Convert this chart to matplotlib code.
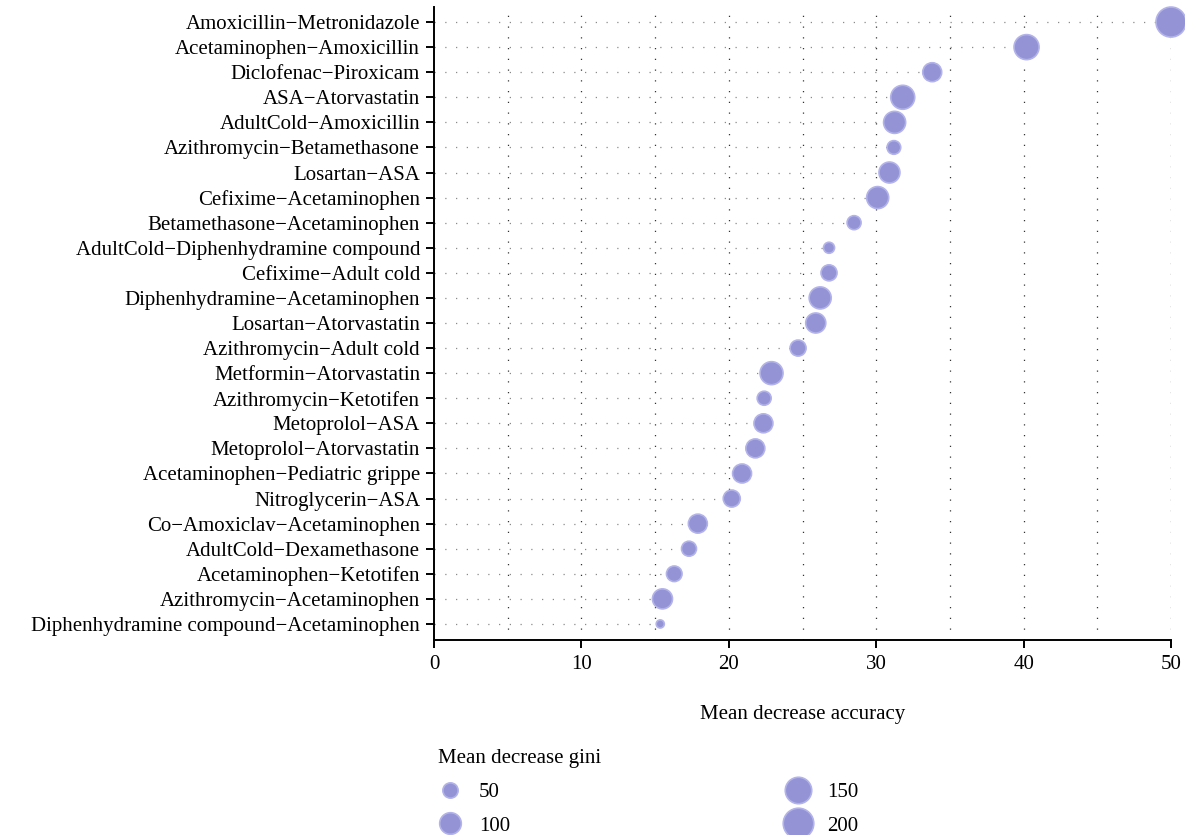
import numpy as np
import matplotlib.pyplot as plt
from matplotlib.lines import Line2D

plt.rcParams['font.family'] = ['Liberation Serif', 'DejaVu Serif']

# top to bottom as they appear in the chart
pairs = [
    "Amoxicillin\u2212Metronidazole",
    "Acetaminophen\u2212Amoxicillin",
    "Diclofenac\u2212Piroxicam",
    "ASA\u2212Atorvastatin",
    "AdultCold\u2212Amoxicillin",
    "Azithromycin\u2212Betamethasone",
    "Losartan\u2212ASA",
    "Cefixime\u2212Acetaminophen",
    "Betamethasone\u2212Acetaminophen",
    "AdultCold\u2212Diphenhydramine compound",
    "Cefixime\u2212Adult cold",
    "Diphenhydramine\u2212Acetaminophen",
    "Losartan\u2212Atorvastatin",
    "Azithromycin\u2212Adult cold",
    "Metformin\u2212Atorvastatin",
    "Azithromycin\u2212Ketotifen",
    "Metoprolol\u2212ASA",
    "Metoprolol\u2212Atorvastatin",
    "Acetaminophen\u2212Pediatric grippe",
    "Nitroglycerin\u2212ASA",
    "Co\u2212Amoxiclav\u2212Acetaminophen",
    "AdultCold\u2212Dexamethasone",
    "Acetaminophen\u2212Ketotifen",
    "Azithromycin\u2212Acetaminophen",
    "Diphenhydramine compound\u2212Acetaminophen",
]
mda = [50.0, 40.2, 33.8, 31.8, 31.25, 31.2, 30.9, 30.1, 28.5, 26.8, 26.8, 26.2, 25.9,
       24.7, 22.9, 22.4, 22.35, 21.8, 20.9, 20.2, 17.9, 17.3, 16.3, 15.5, 15.35]
gini = [193, 134, 77, 123, 104, 40, 94, 104, 42, 26, 55, 104, 86,
        55, 113, 42, 77, 77, 77, 62, 77, 48, 52, 86, 14]
legend_gini = [50, 100, 150, 200]

fill = "#9393d6"
edge = "#b3b3ea"
size_k = 2.42  # marker area (pt^2) per gini unit
fs = 15

fig = plt.figure(figsize=(11.85, 8.35), dpi=100)
ax = fig.add_axes([434 / 1185, 1 - 640 / 835, (1171 - 434) / 1185, (640 - 7) / 835])

n = len(pairs)
ypos = np.arange(n)[::-1]

# vertical dotted grid every 5
for xv in np.arange(5, 51, 5):
    ax.axvline(xv, color="#333333", lw=0.9, linestyle=(0, (1, 7.6)), zorder=1)

ax.hlines(ypos, 0, mda, color="#8a8a8a", lw=0.9, linestyle=(0, (1, 7.6)), zorder=1)
ax.scatter(mda, ypos, s=np.array(gini) * size_k, color=fill, edgecolors=edge,
           linewidths=1.2, zorder=3, clip_on=False)

ax.set_xlim(0, 50)
ax.set_ylim(-0.64, n - 1 + 0.6)
ax.set_yticks(ypos)
ax.set_yticklabels(pairs, fontsize=fs)
ax.set_xticks(np.arange(0, 51, 10))
ax.tick_params(axis='x', labelsize=fs, length=6, width=1.4, pad=5)
ax.tick_params(axis='y', length=6, width=1.4, pad=4)
for side in ["top", "right"]:
    ax.spines[side].set_visible(False)
for side in ["left", "bottom"]:
    ax.spines[side].set_linewidth(1.4)
ax.set_xlabel("Mean decrease accuracy", fontsize=fs, labelpad=22)

handles = [Line2D([], [], linestyle="none", marker="o", markersize=np.sqrt(g * size_k),
                  markerfacecolor=fill, markeredgecolor=edge, markeredgewidth=1.2)
           for g in legend_gini]
leg = fig.legend(handles, [str(g) for g in legend_gini], ncol=2, title="Mean decrease gini",
                 loc="upper left", bbox_to_anchor=(434 / 1185, 1 - 745 / 835),
                 frameon=False, fontsize=fs, title_fontsize=fs, columnspacing=13.3,
                 handlelength=1.1, handletextpad=0.85, labelspacing=0.68, alignment="left",
                 borderaxespad=0, borderpad=0.2)

fig.savefig("out.png", dpi=100)
